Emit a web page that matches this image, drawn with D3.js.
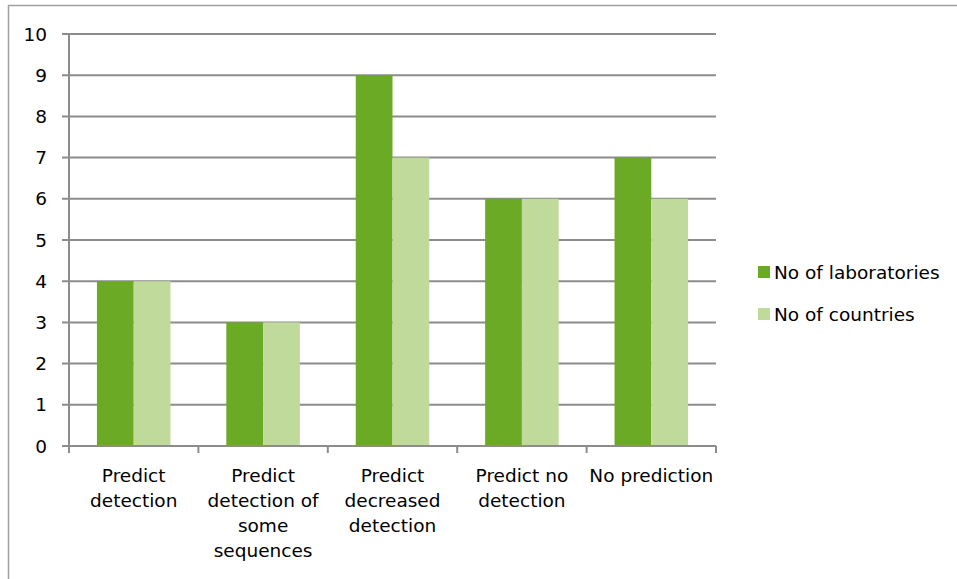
<!DOCTYPE html>
<html>
<head>
<meta charset="utf-8">
<script src="https://cdn.jsdelivr.net/npm/d3@7"></script>
<style>
  html, body { margin: 0; padding: 0; background: #fff; }
  svg { display: block; }
  text { font-family: "DejaVu Sans", sans-serif; fill: #000; }
</style>
</head>
<body>
<svg id="chart" width="957" height="579"></svg>
<script>
// Categories (multi-line labels) and series values
const categories = [
  ["Predict", "detection"],
  ["Predict", "detection of", "some", "sequences"],
  ["Predict", "decreased", "detection"],
  ["Predict no", "detection"],
  ["No prediction"]
];
const seriesNames = ["No of laboratories", "No of countries"];
const laboratories = [4, 3, 9, 6, 7];
const countries = [4, 3, 7, 6, 6];
const yTicks = [0, 1, 2, 3, 4, 5, 6, 7, 8, 9, 10];

const colors = ["#6aaa24", "#c0da9c"];
const gridColor = "#8c8c8c";
const fontSize = 18.5;

const svg = d3.select("#chart");
const margin = { left: 69, right: 716, top: 34, bottom: 446 };

// Outer frame (top and left edges)
svg.append("path")
  .attr("d", "M8.5,579 L8.5,5.5 L957,5.5")
  .attr("fill", "none")
  .attr("stroke", "#a0a0a0")
  .attr("stroke-width", 1.5);

const x0 = d3.scaleBand()
  .domain(d3.range(categories.length))
  .range([margin.left, margin.right])
  .paddingInner(0)
  .paddingOuter(0);

const x1 = d3.scaleBand()
  .domain([0, 1])
  .range([0, x0.bandwidth()])
  .paddingOuter(0.76)
  .paddingInner(0);

const y = d3.scaleLinear()
  .domain([0, 10])
  .range([margin.bottom, margin.top]);

// Horizontal gridlines with left tick stubs
svg.append("g")
  .selectAll("line")
  .data(yTicks)
  .join("line")
  .attr("x1", margin.left - 7)
  .attr("x2", margin.right)
  .attr("y1", d => y(d))
  .attr("y2", d => y(d))
  .attr("stroke", gridColor)
  .attr("stroke-width", 2);

// Y tick labels
svg.append("g")
  .selectAll("text")
  .data(yTicks)
  .join("text")
  .attr("x", margin.left - 22)
  .attr("y", d => y(d))
  .attr("dy", "0.36em")
  .attr("text-anchor", "end")
  .attr("font-size", fontSize)
  .text(d => d);

// Bars
const series = [laboratories, countries];
const groups = svg.append("g")
  .selectAll("g")
  .data(categories.map((c, i) => i))
  .join("g")
  .attr("transform", i => `translate(${x0(i)},0)`);

groups.selectAll("rect")
  .data(i => series.map((s, k) => ({ k, v: s[i] })))
  .join("rect")
  .attr("x", d => x1(d.k))
  .attr("width", x1.bandwidth())
  .attr("y", d => y(d.v))
  .attr("height", d => y(0) - y(d.v))
  .attr("fill", d => colors[d.k]);

// Y axis line
svg.append("line")
  .attr("x1", margin.left).attr("x2", margin.left)
  .attr("y1", margin.top).attr("y2", margin.bottom)
  .attr("stroke", gridColor).attr("stroke-width", 2);

// X axis line and ticks between categories
svg.append("line")
  .attr("x1", margin.left).attr("x2", margin.right)
  .attr("y1", margin.bottom).attr("y2", margin.bottom)
  .attr("stroke", gridColor).attr("stroke-width", 2);

const boundaries = d3.range(categories.length + 1).map(i =>
  i < categories.length ? x0(i) : x0(i - 1) + x0.bandwidth());
svg.append("g")
  .selectAll("line")
  .data(boundaries)
  .join("line")
  .attr("x1", d => d).attr("x2", d => d)
  .attr("y1", margin.bottom).attr("y2", margin.bottom + 7)
  .attr("stroke", gridColor).attr("stroke-width", 2);

// Category labels
const labels = svg.append("g")
  .selectAll("text")
  .data(categories.map((c, i) => ({ c, i })))
  .join("text")
  .attr("text-anchor", "middle")
  .attr("font-size", fontSize)
  .attr("x", d => x0(d.i) + x0.bandwidth() / 2)
  .attr("y", 482);
labels.selectAll("tspan")
  .data(d => d.c.map((line, j) => ({ line, j, x: x0(d.i) + x0.bandwidth() / 2 })))
  .join("tspan")
  .attr("x", d => d.x)
  .attr("dy", d => d.j === 0 ? 0 : 25)
  .text(d => d.line);

// Legend
const legend = svg.append("g")
  .selectAll("g")
  .data(seriesNames.map((n, k) => ({ n, k })))
  .join("g")
  .attr("transform", d => `translate(758,${266 + d.k * 42})`);
legend.append("rect")
  .attr("width", 12).attr("height", 12)
  .attr("fill", d => colors[d.k]);
legend.append("text")
  .attr("x", 16).attr("y", 6)
  .attr("dy", "0.36em")
  .attr("font-size", fontSize)
  .text(d => d.n);
</script>
</body>
</html>
